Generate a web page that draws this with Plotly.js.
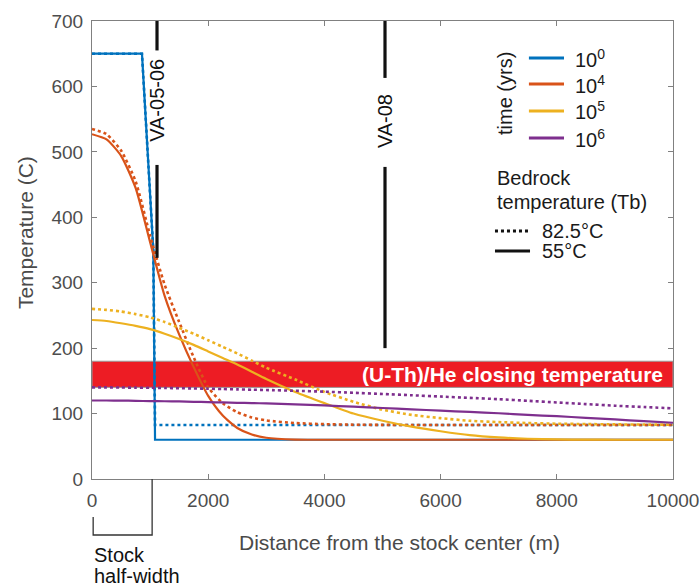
<!DOCTYPE html>
<html>
<head>
<meta charset="utf-8">
<script src="https://cdn.plot.ly/plotly-3.0.1.min.js"></script>
<style>
  html, body { margin: 0; padding: 0; background: #fff; }
  #chart { width: 700px; height: 587px; }
</style>
</head>
<body>
<div id="chart"></div>
<script>
// ---------- data ----------
const timeLabels = ['10<sup>0</sup>', '10<sup>4</sup>', '10<sup>5</sup>', '10<sup>6</sup>'];
const timeColors = ['#0072BD', '#D95319', '#EDB120', '#7E2F8E'];
const bedrockLabels = ['82.5°C', '55°C'];
const xTicks = [0, 2000, 4000, 6000, 8000, 10000];
const xTickText = ['0', '2000', '4000', '6000', '8000', '10000'];
const yTicks = [0, 100, 200, 300, 400, 500, 600, 700];

// initial (10^0 yrs) profile
const xInitial = [0, 860, 1055, 1085, 10000];
const tInitial55 = [650, 650, 350, 60, 60];
const tInitial82 = [650, 650, 350, 82.5, 82.5];

// diffused profiles
const xProfile = [0, 250, 500, 750, 1000, 1250, 1500, 1750, 2000, 2250, 2500, 2750, 3000,
                  3500, 4000, 4500, 5000, 5500, 6000, 6500, 7000, 7500, 8000, 8500, 9000, 9500, 10000];
const t1e4_55 = [527, 519, 494, 445, 362, 280, 221, 171, 127, 97, 78, 68, 63,
                 60.2, 60, 60, 60, 60, 60, 60, 60, 60, 60, 60, 60, 60, 60];
const t1e4_82 = [535, 527, 502, 455, 372, 297, 240, 186, 140, 116, 102, 94, 89.5,
                 85.5, 83.8, 83, 82.7, 82.6, 82.5, 82.5, 82.5, 82.5, 82.5, 82.5, 82.5, 82.5, 82.5];
const t1e5_55 = [243, 241.5, 238, 234, 229, 222, 214, 205, 195, 185, 175, 164, 153,
                 133, 116, 100, 89, 80, 73, 67, 63.5, 61.5, 60.5, 60.2, 60, 60, 60];
const t1e5_82 = [260, 258.5, 256, 252, 247, 240, 231, 222, 212, 202, 192, 181, 170,
                 152, 133, 118, 106, 98, 93, 89, 87, 85.5, 84.5, 84, 83.5, 83.2, 83];
const t1e6_55 = [120, 120, 119.8, 119.5, 119, 118.8, 118.5, 118, 117.5, 117, 116.5, 116, 115.5,
                 114, 112.5, 110.5, 108.5, 106.5, 104.5, 102.5, 100.5, 98, 96, 93.5, 91, 88.5, 86];
const t1e6_82 = [140, 140, 139.8, 139.6, 139.4, 139.1, 138.8, 138.4, 138, 137.5, 137, 136.5, 136,
                 134.8, 133.5, 131.8, 130, 128, 126, 124, 122, 119.5, 117, 114.5, 112, 110, 108];

// (U-Th)/He closing temperature band
const closingBand = [140, 180];
const closingLabel = '(U-Th)/He closing temperature';

// sample locations
const sampleNames = ['VA-05-06', 'VA-08'];
const sampleX = [1119, 5043];
const sampleUpper = [[655, 700], [613, 700]];
const sampleLower = [[338, 480], [200, 477]];
const sampleLabelY = [578, 547];

const stockHalfWidth = 1035;

// ---------- traces ----------
const FONT = '"Liberation Sans", Arial, Helvetica, sans-serif';
const traces = [];
function addPair(x, y55, y82, color) {
  traces.push({x: x, y: y82, mode: 'lines', line: {color: color, width: 2.6, dash: 'dot', shape: 'spline', smoothing: 0.6}, showlegend: false, hoverinfo: 'skip'});
  traces.push({x: x, y: y55, mode: 'lines', line: {color: color, width: 2.2, shape: 'spline', smoothing: 0.6}, showlegend: false, hoverinfo: 'skip'});
}
traces.push({x: xInitial, y: tInitial82, mode: 'lines', line: {color: timeColors[0], width: 2.6, dash: 'dot'}, showlegend: false, hoverinfo: 'skip'});
traces.push({x: xInitial, y: tInitial55, mode: 'lines', line: {color: timeColors[0], width: 2.2}, showlegend: false, hoverinfo: 'skip'});
addPair(xProfile, t1e4_55, t1e4_82, timeColors[1]);
addPair(xProfile, t1e5_55, t1e5_82, timeColors[2]);
addPair(xProfile, t1e6_55, t1e6_82, timeColors[3]);

// ---------- shapes & annotations ----------
const shapes = [];
const annotations = [];

shapes.push({type: 'rect', xref: 'x', yref: 'y', x0: 0, x1: 10000, y0: closingBand[0], y1: closingBand[1],
  fillcolor: '#ED1C24', line: {color: '#9a9a9a', width: 1}, layer: 'below'});
annotations.push({xref: 'x', yref: 'y', x: 9870, y: (closingBand[0] + closingBand[1]) / 2,
  text: '<b>' + closingLabel + '</b>', showarrow: false, xanchor: 'right', yanchor: 'middle',
  font: {family: FONT, size: 21, color: '#ffffff'}});

sampleNames.forEach((name, i) => {
  [sampleUpper[i], sampleLower[i]].forEach(seg => {
    shapes.push({type: 'line', xref: 'x', yref: 'y', x0: sampleX[i], x1: sampleX[i], y0: seg[0], y1: seg[1],
      line: {color: '#111111', width: 3.2}});
  });
  annotations.push({xref: 'x', yref: 'y', x: sampleX[i], y: sampleLabelY[i], text: name, textangle: -90,
    showarrow: false, xanchor: 'center', yanchor: 'middle', font: {family: FONT, size: 20, color: '#111111'}});
});

// legend (drawn manually)
const legX0 = 0.752, legX1 = 0.8124, legTextX = 0.8279;
const legY = [0.9192, 0.8624, 0.8035, 0.7445];
timeLabels.forEach((lab, i) => {
  shapes.push({type: 'line', xref: 'paper', yref: 'paper', x0: legX0, x1: legX1, y0: legY[i], y1: legY[i],
    line: {color: timeColors[i], width: 3}});
  annotations.push({xref: 'paper', yref: 'paper', x: legTextX, y: legY[i], text: lab, showarrow: false,
    xanchor: 'left', yanchor: 'middle', font: {family: FONT, size: 20, color: '#1a1a1a'}});
});
annotations.push({xref: 'paper', yref: 'paper', x: 0.7108, y: 0.8428, text: 'time (yrs)', textangle: -90,
  showarrow: false, xanchor: 'center', yanchor: 'middle', font: {family: FONT, size: 20, color: '#1a1a1a'}});
annotations.push({xref: 'paper', yref: 'paper', x: 0.6936, y: 0.6572, text: 'Bedrock', showarrow: false,
  xanchor: 'left', yanchor: 'middle', font: {family: FONT, size: 20, color: '#1a1a1a'}});
annotations.push({xref: 'paper', yref: 'paper', x: 0.6936, y: 0.6048, text: 'temperature (Tb)', showarrow: false,
  xanchor: 'left', yanchor: 'middle', font: {family: FONT, size: 20, color: '#1a1a1a'}});
const bedY = [0.5415, 0.4978];
const bedDash = ['dot', 'solid'];
bedrockLabels.forEach((lab, i) => {
  shapes.push({type: 'line', xref: 'paper', yref: 'paper', x0: 0.6936, x1: 0.7539, y0: bedY[i], y1: bedY[i],
    line: {color: '#111111', width: 3, dash: bedDash[i]}});
  annotations.push({xref: 'paper', yref: 'paper', x: 0.7711, y: bedY[i], text: lab, showarrow: false,
    xanchor: 'left', yanchor: 'middle', font: {family: FONT, size: 20, color: '#1a1a1a'}});
});

// stock half-width bracket
const bx1 = stockHalfWidth / 10000;
shapes.push({type: 'path', xref: 'paper', yref: 'paper',
  path: 'M 0.002 -0.083 L 0.002 -0.1223 L ' + bx1 + ' -0.1223 L ' + bx1 + ' 0',
  line: {color: '#333333', width: 1.3}});
annotations.push({xref: 'paper', yref: 'paper', x: 0.0, y: -0.166, text: 'Stock', showarrow: false,
  xanchor: 'left', yanchor: 'middle', font: {family: FONT, size: 20, color: '#111111'}});
annotations.push({xref: 'paper', yref: 'paper', x: 0.0, y: -0.212, text: 'half-width', showarrow: false,
  xanchor: 'left', yanchor: 'middle', font: {family: FONT, size: 20, color: '#111111'}});

// axis titles positioned as in the reference
annotations.push({xref: 'paper', yref: 'paper', x: 0.5294, y: -0.1397, text: 'Distance from the stock center (m)',
  showarrow: false, xanchor: 'center', yanchor: 'middle', font: {family: FONT, size: 21, color: '#4a4a4a'}});
annotations.push({xref: 'paper', yref: 'paper', x: -0.1153, y: 0.537, text: 'Temperature (C)', textangle: -90,
  showarrow: false, xanchor: 'center', yanchor: 'middle', font: {family: FONT, size: 21, color: '#4a4a4a'}});

const axisCommon = {
  showline: true, linecolor: '#808080', linewidth: 1, mirror: 'ticks',
  ticks: 'inside', ticklen: 5, tickcolor: '#808080', tickwidth: 1,
  showgrid: false, zeroline: false,
  tickfont: {family: FONT, size: 19, color: '#4d4d4d'}
};

const layout = {
  width: 700, height: 587,
  margin: {l: 92, r: 27, t: 21, b: 108},
  paper_bgcolor: '#ffffff', plot_bgcolor: '#ffffff',
  showlegend: false,
  font: {family: FONT},
  xaxis: Object.assign({}, axisCommon, {range: [0, 10000], tickmode: 'array', tickvals: xTicks, ticktext: xTickText, ticklabelstandoff: 4}),
  yaxis: Object.assign({}, axisCommon, {range: [0, 700], tickmode: 'array', tickvals: yTicks, ticklabelstandoff: 4}),
  shapes: shapes,
  annotations: annotations
};

Plotly.newPlot('chart', traces, layout, {staticPlot: true, displayModeBar: false});
</script>
</body>
</html>
